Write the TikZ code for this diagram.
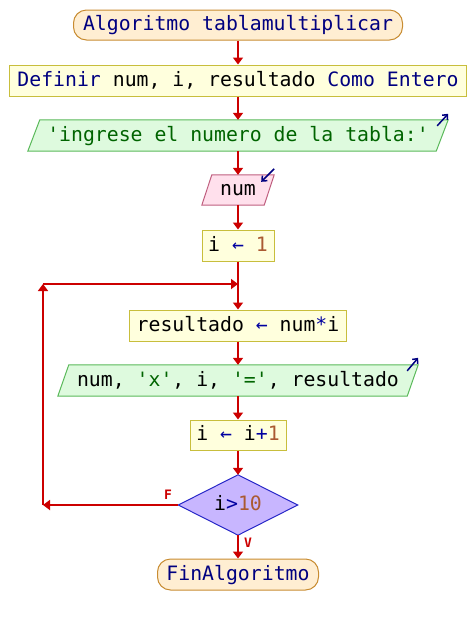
\documentclass[tikz,border=0pt]{standalone}
\usepackage{fontspec}
\setmonofont{DejaVu Sans Mono}
\usetikzlibrary{arrows.meta,calc,backgrounds}
\definecolor{termf}{RGB}{255,238,210}
\definecolor{termd}{RGB}{200,140,50}
\definecolor{procf}{RGB}{255,255,221}
\definecolor{procd}{RGB}{200,190,60}
\definecolor{outf}{RGB}{222,250,222}
\definecolor{outd}{RGB}{90,185,90}
\definecolor{inf}{RGB}{255,224,236}
\definecolor{ind}{RGB}{192,96,128}
\definecolor{decf}{RGB}{200,182,255}
\definecolor{decd}{RGB}{40,40,200}
\definecolor{flowred}{RGB}{204,0,0}
\definecolor{kw}{RGB}{0,0,128}
\definecolor{opc}{RGB}{0,0,160}
\definecolor{numc}{RGB}{170,90,50}
\definecolor{strc}{RGB}{0,100,0}
\begin{document}
\begin{tikzpicture}[x=1pt,y=-1pt,
  base/.style={inner sep=0pt, text height=15pt, text depth=4pt,
    font=\ttfamily\fontsize{19.8}{22}\selectfont, text=black},
  term/.style={base, text=kw, draw=termd, fill=termf, line width=1pt, rounded corners=13pt},
  proc/.style={base, draw=procd, fill=procf, line width=1pt},
  iobox/.style={base},
  outshape/.style={draw=outd, fill=outf, line width=1pt},
  inshape/.style={draw=ind, fill=inf, line width=1pt},
  decshape/.style={draw=decd, fill=decf, line width=1pt},
  flow/.style={draw=flowred, line width=2.5pt, -{Triangle[width=10pt,length=7pt]}},
  icon/.style={draw=kw, line width=1.5pt, -{Straight Barb[length=4pt,width=7pt]}},
  lab/.style={inner sep=0pt, text=flowred, font=\ttfamily\bfseries\fontsize{13}{13}\selectfont}
]
\useasboundingbox (0,0) rectangle (476,625);

\node[term, minimum width=329pt, minimum height=30pt] (s) at (238,25) {Algoritmo tablamultiplicar};
\node[proc, minimum width=457pt, minimum height=31pt] (def) at (238,80.5) {{\color{kw}Definir} num, i, resultado {\color{kw}Como Entero}};
\node[iobox, minimum width=420pt, minimum height=31pt] (o1) at (238,135.5) {\color{strc}'ingrese el numero de la tabla:'};
\node[iobox, minimum width=72pt, minimum height=30pt] (in1) at (238,190) {num};
\node[proc, minimum width=72pt, minimum height=31pt] (p1) at (238,245.5) {i {\color{opc}←} {\color{numc}1}};
\node[proc, minimum width=217pt, minimum height=31pt] (p2) at (238,325.5) {resultado {\color{opc}←} num{\color{opc}*}i};
\node[iobox, minimum width=360pt, minimum height=31pt] (o2) at (238,380.5) {num, {\color{strc}'x'}, i, {\color{strc}'='}, resultado};
\node[proc, minimum width=96pt, minimum height=30pt] (p3) at (238,435) {i {\color{opc}←} i{\color{opc}+}{\color{numc}1}};
\node[iobox, minimum width=119pt, minimum height=60pt] (d) at (238,505) {i{\color{opc}>}{\color{numc}10}};
\node[term, minimum width=161pt, minimum height=31pt] (e) at (238,574.5) {FinAlgoritmo};

\node[lab] (lf) at (168,495) {F};
\node[lab] (lv) at (248,543) {V};

\coordinate (lj) at (238,284);
\coordinate (lt) at (43,284);
\coordinate (lb) at (43,505);

\begin{scope}[on background layer]
  \path[outshape] ($(o1.north west)+(12,0)$) -- (o1.north east) -- ($(o1.south east)+(-12,0)$) -- (o1.south west) -- cycle;
  \path[inshape] ($(in1.north west)+(10,0)$) -- (in1.north east) -- ($(in1.south east)+(-10,0)$) -- (in1.south west) -- cycle;
  \path[outshape] ($(o2.north west)+(11,0)$) -- (o2.north east) -- ($(o2.south east)+(-11,0)$) -- (o2.south west) -- cycle;
  \path[decshape] (d.north) -- (d.east) -- (d.south) -- (d.west) -- cycle;
\end{scope}

\draw[icon] ($(o1.north east)+(-11,6)$) -- ($(o1.north east)+(0,-6)$);
\draw[icon] ($(o2.north east)+(-11,6)$) -- ($(o2.north east)+(0,-7)$);
\draw[icon] ($(in1.north east)+(0,-6)$) -- ($(in1.north east)+(-13,7)$);

\draw[flow] (s.south) -- (def.north);
\draw[flow] (def.south) -- (o1.north);
\draw[flow] (o1.south) -- (in1.north);
\draw[flow] (in1.south) -- (p1.north);
\draw[flow] (p1.south) -- (p2.north);
\draw[flow] (p2.south) -- (o2.north);
\draw[flow] (o2.south) -- (p3.north);
\draw[flow] (p3.south) -- (d.north);
\draw[flow] (d.south) -- (e.north);
\draw[flow] (d.west) -- (lb);
\draw[flow] (lb) -- (lt);
\draw[flow] (lt) -- (lj);
\end{tikzpicture}
\end{document}
